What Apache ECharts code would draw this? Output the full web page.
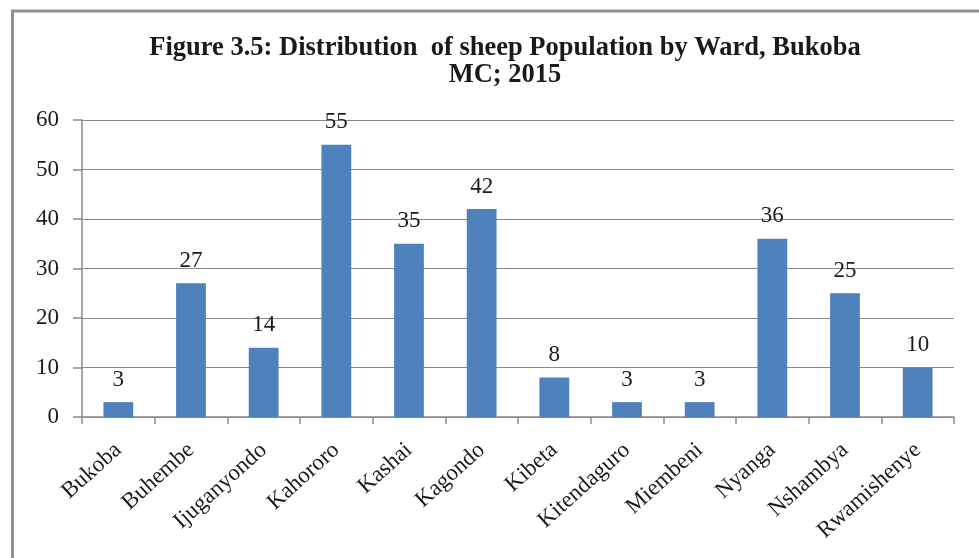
<!DOCTYPE html>
<html>
<head>
<meta charset="utf-8">
<script src="https://cdn.jsdelivr.net/npm/echarts@6/dist/echarts.min.js"></script>
<style>
  html, body { margin: 0; padding: 0; background: #fff; }
  #chart { width: 979px; height: 558px; }
</style>
</head>
<body>
<div id="chart"></div>
<script>
// Sheep population by ward, Bukoba MC, 2015
const wards = ['Bukoba', 'Buhembe', 'Ijuganyondo', 'Kahororo', 'Kashai', 'Kagondo',
  'Kibeta', 'Kitendaguro', 'Miembeni', 'Nyanga', 'Nshambya', 'Rwamishenye'];
const sheep = [3, 27, 14, 55, 35, 42, 8, 3, 3, 36, 25, 10];
const yTicks = { min: 0, max: 60, interval: 10 };

const serif = '"Liberation Serif", "Times New Roman", serif';
const grey = '#8a8a8a';

const chart = echarts.init(document.getElementById('chart'), null, { renderer: 'canvas' });
chart.setOption({
  animation: false,
  backgroundColor: '#ffffff',
  title: {
    text: 'Figure 3.5: Distribution  of sheep Population by Ward, Bukoba\nMC; 2015',
    left: 500,
    top: 30,
    textAlign: 'center',
    textStyle: {
      fontFamily: serif,
      fontWeight: 'bold',
      fontSize: 26.5,
      lineHeight: 27,
      color: '#1a1a1a'
    }
  },
  // frame: top and left edges of the chart box
  graphic: [
    {
      type: 'polyline',
      shape: { points: [[12.5, 558], [12.5, 11], [979, 11]] },
      style: { fill: 'none', stroke: '#909090', lineWidth: 3 },
      silent: true
    }
  ],
  grid: { left: 82, right: 25, top: 120, bottom: 141 },
  xAxis: {
    type: 'category',
    data: wards,
    boundaryGap: true,
    axisLine: { lineStyle: { color: grey, width: 1.5 } },
    axisTick: { show: true, length: 7, alignWithLabel: false, lineStyle: { color: grey, width: 1.5 } },
    axisLabel: {
      rotate: 42,
      interval: 0,
      margin: 30,
      fontFamily: serif,
      fontSize: 23,
      color: '#1a1a1a'
    }
  },
  yAxis: {
    type: 'value',
    min: yTicks.min,
    max: yTicks.max,
    interval: yTicks.interval,
    axisLine: { show: true, lineStyle: { color: grey, width: 1.5 } },
    axisTick: { show: true, length: 9, lineStyle: { color: grey, width: 1.5 } },
    splitLine: { lineStyle: { color: grey, width: 1.2 } },
    axisLabel: {
      margin: 23,
      fontFamily: serif,
      fontSize: 23,
      color: '#1a1a1a'
    }
  },
  series: [{
    type: 'bar',
    data: sheep,
    barWidth: '41%',
    itemStyle: { color: '#4f81bd' },
    label: {
      show: true,
      position: 'top',
      distance: 11,
      fontFamily: serif,
      fontSize: 23,
      color: '#1a1a1a'
    }
  }]
});
</script>
</body>
</html>
